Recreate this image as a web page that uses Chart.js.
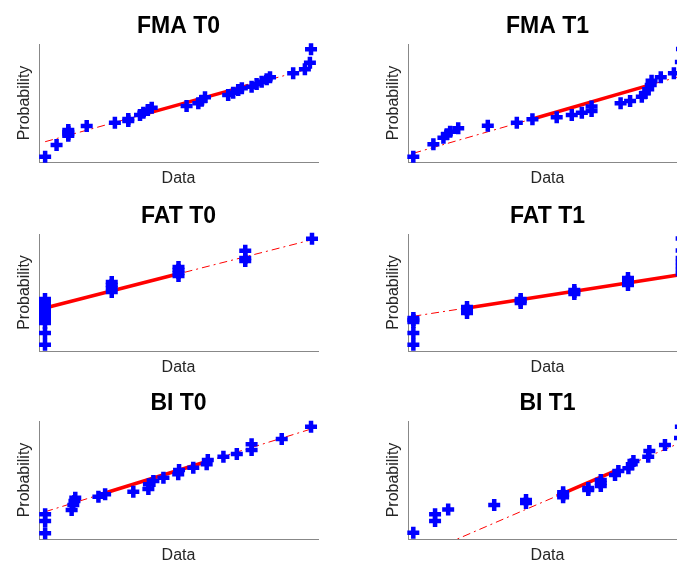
<!DOCTYPE html>
<html>
<head>
<meta charset="utf-8">
<script src="https://cdn.jsdelivr.net/npm/chart.js@4.4.1/dist/chart.umd.min.js"></script>
<style>
  html, body { margin: 0; padding: 0; background: #fff; overflow: hidden; }
  body { width: 677px; height: 563px; position: relative; }
  canvas { position: absolute; }
</style>
</head>
<body>
<canvas id="p0"></canvas>
<canvas id="p1"></canvas>
<canvas id="p2"></canvas>
<canvas id="p3"></canvas>
<canvas id="p4"></canvas>
<canvas id="p5"></canvas>
<script>
const titles = ['FMA T0', 'FMA T1', 'FAT T0', 'FAT T1', 'BI T0', 'BI T1'];

// sorted data (x) against normal probability position (y, 0-100 of the axis)
const fmaT0X = [2.2, 6.3, 10.5, 10.5, 10.5, 10.5, 17.1, 27.2, 32.0, 32.0, 36.2, 37.4, 39.0, 40.4, 52.9, 57.1, 58.3, 59.5, 67.8, 69.6, 71.4, 72.7, 76.2, 78.0, 79.8, 81.6, 82.8, 91.1, 95.3, 97.1, 97.5];
const fmaT0Y = [4.5, 14.4, 22.3, 23.7, 25.4, 27.1, 30.5, 33.3, 34.7, 36.4, 39.8, 41.8, 44.1, 46.0, 47.5, 49.7, 51.9, 54.8, 56.8, 58.7, 61.0, 62.5, 63.8, 66.1, 68.0, 70.1, 71.8, 75.2, 78.6, 84.2, 95.5];

const fmaT1X = [1.9, 9.1, 12.7, 13.9, 15.1, 18.0, 28.6, 39.0, 44.6, 53.3, 58.7, 62.3, 65.8, 65.8, 76.2, 79.6, 83.8, 84.9, 86.1, 87.0, 87.3, 90.6, 95.3, 97.8, 98.2];
const fmaT1Y = [4.5, 15.0, 20.6, 23.5, 25.7, 28.6, 30.8, 33.3, 36.2, 37.9, 39.8, 41.8, 43.2, 47.0, 49.7, 51.7, 55.3, 58.2, 61.6, 65.3, 68.9, 71.8, 75.2, 84.7, 95.8];

const fatT0X = [0, 0, 0, 0, 0, 0, 0, 0, 0, 1, 1, 1, 1, 2, 2, 2, 2, 3, 3, 3, 4];
const fatT0Y = [5.4, 15.4, 23.9, 27.4, 30.8, 34.2, 37.6, 41.0, 44.4, 50.4, 53.8, 56.4, 59.0, 64.1, 66.7, 69.2, 71.8, 76.9, 79.5, 85.7, 96.0];

const fatT1X = [0, 0, 0, 0, 0, 1, 1, 1, 2, 2, 2, 3, 3, 3, 4, 4, 4, 5, 5, 5, 5, 5, 5, 5];
const fatT1Y = [5.4, 15.4, 24.8, 26.5, 28.2, 32.5, 35.0, 37.6, 41.0, 42.7, 44.4, 48.7, 50.4, 52.1, 56.4, 59.8, 62.4, 65.8, 69.2, 72.6, 76.1, 79.5, 85.9, 96.2];

const biT0X = [2.2, 2.2, 2.2, 11.7, 12.3, 12.7, 13.0, 21.3, 23.7, 33.8, 39.2, 39.4, 41.0, 44.6, 49.9, 50.2, 55.3, 60.1, 60.5, 66.1, 70.9, 76.2, 76.2, 87.0, 97.5];
const biT0Y = [4.8, 15.3, 20.9, 24.6, 28.8, 32.2, 35.0, 35.8, 37.9, 40.1, 42.4, 46.3, 49.2, 52.0, 54.8, 58.5, 60.4, 63.3, 66.9, 69.7, 72.0, 75.4, 80.2, 84.7, 95.2];

const biT1X = [1.9, 9.7, 9.7, 14.4, 30.9, 42.3, 42.3, 55.6, 55.6, 55.6, 64.6, 64.6, 69.1, 69.1, 69.1, 74.2, 75.4, 79.0, 80.2, 80.8, 86.1, 86.5, 92.1, 97.5, 97.8];
const biT1Y = [5.4, 15.3, 20.9, 25.1, 28.8, 30.5, 33.1, 35.3, 37.5, 39.7, 41.5, 43.2, 45.0, 47.5, 50.0, 54.2, 57.6, 59.9, 63.3, 66.1, 69.7, 74.6, 79.7, 85.6, 95.2];

// x axis limits of each panel
const xLimits = [[0, 100], [0, 100], [-0.09, 4.09], [-0.1, 5.1], [0, 100], [0, 100]];

// reference line: dash-dot over the data range, solid between the quartiles
const fitX = [[2.2, 97.5], [1.9, 98.2], [0, 4], [0, 5], [2.2, 97.5], [1.9, 98.2]];
const fitY = [[17.2, 79.5], [7.4, 73.1], [36.8, 95.1], [29.7, 65.4], [23.1, 93.2], [-16.1, 82.2]];
const quartX = [[36.9, 75.1], [44.9, 85.3], [0, 2], [1, 5], [22.5, 60.7], [53.3, 75.3]];
const quartY = [[39.9, 64.9], [36.7, 64.3], [36.8, 66.0], [36.8, 65.4], [38.1, 66.1], [36.4, 58.8]];

const seriesX = [fmaT0X, fmaT1X, fatT0X, fatT1X, biT0X, biT1X];
const seriesY = [fmaT0Y, fmaT1Y, fatT0Y, fatT1Y, biT0Y, biT1Y];

const FONT = '"Liberation Sans", Arial, Helvetica, sans-serif';
const colLeft = [0, 369];
const rowTop = [0, 190, 377];
const rowHeight = [193, 192, 193];

function pairs(xs, ys) {
  return xs.map((x, i) => ({ x: x, y: ys[i] }));
}

function makePanel(i) {
  const canvas = document.getElementById('p' + i);
  const row = Math.floor(i / 2);
  const col = i % 2;
  canvas.width = 340;
  canvas.height = rowHeight[row];
  canvas.style.left = colLeft[col] + 'px';
  canvas.style.top = rowTop[row] + 'px';

  new Chart(canvas.getContext('2d'), {
    type: 'scatter',
    data: {
      datasets: [
        {
          data: pairs(seriesX[i], seriesY[i]),
          pointStyle: 'cross',
          pointRadius: 6,
          pointBorderWidth: 4.5,
          borderColor: '#0000ff',
          backgroundColor: '#0000ff',
          clip: false
        },
        {
          data: pairs(quartX[i], quartY[i]),
          showLine: true,
          pointRadius: 0,
          borderColor: '#ff0000',
          borderWidth: 3.5
        },
        {
          data: pairs(fitX[i], fitY[i]),
          showLine: true,
          pointRadius: 0,
          borderColor: '#ff0000',
          borderWidth: 1,
          borderDash: [8, 4, 2, 4]
        }
      ]
    },
    options: {
      responsive: false,
      animation: false,
      devicePixelRatio: 1,
      events: [],
      layout: { padding: { left: 11, right: 22, top: 0, bottom: 0 } },
      plugins: {
        legend: { display: false },
        tooltip: { enabled: false },
        title: {
          display: true,
          text: titles[i],
          fullSize: false,
          color: '#000',
          font: { family: FONT, size: 23, weight: 'bold' },
          padding: { top: 13, bottom: 3.4 }
        }
      },
      scales: {
        x: {
          type: 'linear',
          min: xLimits[i][0],
          max: xLimits[i][1],
          ticks: { display: false },
          grid: { display: false, drawTicks: false },
          border: { display: true, color: '#888', width: 1 },
          title: { display: true, text: 'Data', color: '#262626', font: { family: FONT, size: 16 }, padding: { top: 4, bottom: 5 } },
          afterFit: s => { s.height = 31; }
        },
        y: {
          type: 'linear',
          min: 0,
          max: 100,
          ticks: { display: false },
          grid: { display: false, drawTicks: false },
          border: { display: true, color: '#888', width: 1 },
          title: { display: true, text: 'Probability', color: '#262626', font: { family: FONT, size: 16 }, padding: { top: 4, bottom: 4 } },
          afterFit: s => { s.width = 28; }
        }
      }
    }
  });
}

for (let i = 0; i < 6; i++) makePanel(i);
</script>
</body>
</html>
